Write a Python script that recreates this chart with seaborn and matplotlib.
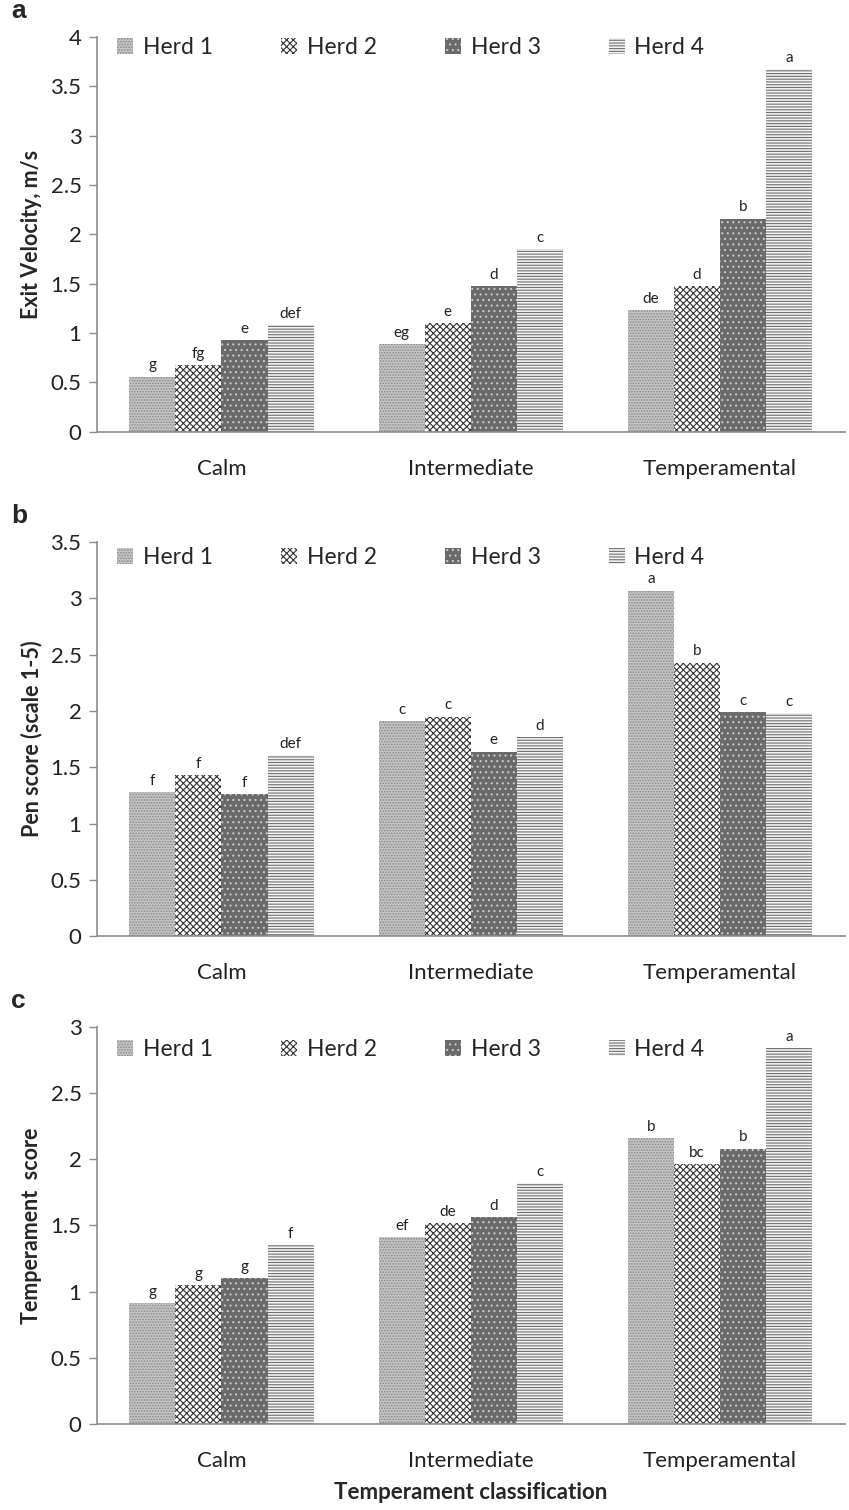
import matplotlib

matplotlib.use("Agg")

import matplotlib.pyplot as plt
import numpy as np
import pandas as pd
import seaborn as sns

classes = ["Calm", "Intermediate", "Temperamental"]
herds = ["Herd 1", "Herd 2", "Herd 3", "Herd 4"]

# values per herd, in class order (Calm, Intermediate, Temperamental)
exit_vel = {
    "Herd 1": [0.56, 0.89, 1.23],
    "Herd 2": [0.68, 1.10, 1.48],
    "Herd 3": [0.93, 1.48, 2.16],
    "Herd 4": [1.08, 1.85, 3.67],
}
exit_letters = {
    "Herd 1": ["g", "eg", "de"],
    "Herd 2": ["fg", "e", "d"],
    "Herd 3": ["e", "d", "b"],
    "Herd 4": ["def", "c", "a"],
}

pen_score = {
    "Herd 1": [1.28, 1.91, 3.07],
    "Herd 2": [1.43, 1.95, 2.43],
    "Herd 3": [1.26, 1.64, 1.99],
    "Herd 4": [1.61, 1.77, 1.98],
}
pen_letters = {
    "Herd 1": ["f", "c", "a"],
    "Herd 2": ["f", "c", "b"],
    "Herd 3": ["f", "e", "c"],
    "Herd 4": ["def", "d", "c"],
}

temp_score = {
    "Herd 1": [0.91, 1.41, 2.16],
    "Herd 2": [1.05, 1.52, 1.96],
    "Herd 3": [1.10, 1.56, 2.08],
    "Herd 4": [1.35, 1.82, 2.84],
}
temp_letters = {
    "Herd 1": ["g", "ef", "b"],
    "Herd 2": ["g", "de", "bc"],
    "Herd 3": ["g", "d", "b"],
    "Herd 4": ["f", "c", "a"],
}

# fill, hatch, hatch colour per herd
styles = {
    "Herd 1": ("#c4c4c4", "......", "#8a8a8a"),
    "Herd 2": ("white", "xxxxx", "#333333"),
    "Herd 3": ("#6a6a6a", "...", "#c8c8c8"),
    "Herd 4": ("#f4f4f4", "------", "#707070"),
}

panels = [
    ("a", exit_vel, exit_letters, "Exit Velocity, m/s", 4.0, [0.114, 0.714, 0.881, 0.2616], 0.972),
    ("b", pen_score, pen_letters, "Pen score (scale 1-5)", 3.5, [0.114, 0.380, 0.881, 0.261], 0.962),
    ("c", temp_score, temp_letters, "Temperament  score", 3.0, [0.114, 0.057, 0.881, 0.263], 0.942),
]

sns.set_style("white")
plt.rcParams["font.family"] = ["Lato", "DejaVu Sans"]
plt.rcParams["hatch.linewidth"] = 0.8

fig = plt.figure(figsize=(8.49, 15.10), dpi=100)

for letter, values, letters, ylabel, ymax, rect, leg_y in panels:
    rows = []
    for h in herds:
        for c, v in zip(classes, values[h]):
            rows.append({"cls": c, "herd": h, "val": v})
    df = pd.DataFrame(rows)

    ax = fig.add_axes(rect)
    sns.barplot(data=df, x="cls", y="val", hue="herd", order=classes,
                hue_order=herds, width=0.74, gap=0, ax=ax, errorbar=None,
                legend=False)

    for h, cont in zip(herds, ax.containers):
        face, hatch, hcol = styles[h]
        for bar in cont:
            bar.set_facecolor(face)
            bar.set_hatch(hatch)
            bar.set_edgecolor(hcol)
            bar.set_linewidth(0)
        ax.bar_label(cont, labels=letters[h], padding=3, fontsize=11,
                     color="#222222")

    ax.set_xlim(-0.5, 2.5)
    ax.set_ylim(0, ymax)
    ticks = np.arange(0, ymax + 0.01, 0.5)
    ax.set_yticks(ticks)
    ax.set_yticklabels([f"{t:g}" for t in ticks])
    ax.tick_params(axis="y", left=True, length=6, width=1, color="#8c8c8c",
                   labelsize=16, pad=5, labelcolor="#222222")
    ax.tick_params(axis="x", bottom=False, labelsize=16, pad=16,
                   labelcolor="#222222")
    for s in ["top", "right"]:
        ax.spines[s].set_visible(False)
    for s in ["left", "bottom"]:
        ax.spines[s].set_color("#8c8c8c")
        ax.spines[s].set_linewidth(1.2)

    ax.set_ylabel(ylabel, fontsize=15.5, fontweight="bold", labelpad=6)
    if letter == "c":
        ax.set_xlabel("Temperament classification", fontsize=16,
                      fontweight="bold", labelpad=8)
    else:
        ax.set_xlabel("")

    handles = [cont[0] for cont in ax.containers]
    ax.legend(handles, herds, loc="center left",
              bbox_to_anchor=(0.0, leg_y), ncol=4, frameon=False,
              fontsize=16.5, handlelength=0.7, handleheight=0.7,
              handletextpad=0.4, columnspacing=3.0)

    ax.text(-0.115, 1.035, letter, transform=ax.transAxes, fontsize=19,
            fontweight="bold", family="Liberation Sans", va="bottom",
            ha="left")

fig.savefig("out.png", dpi=100)
